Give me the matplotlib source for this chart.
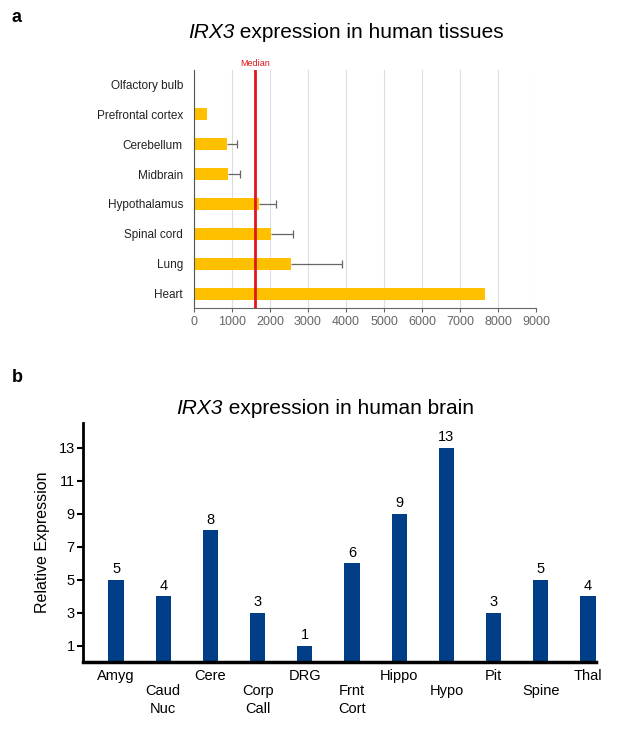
import matplotlib
matplotlib.use("Agg")
import matplotlib.pyplot as plt
import numpy as np

plt.rcParams['font.family'] = ['Liberation Sans', 'DejaVu Sans']

# Panel a data
tissues = ["Heart", "Lung", "Spinal cord", "Hypothalamus", "Midbrain",
           "Cerebellum", "Prefrontal cortex", "Olfactory bulb"]
tissue_values = [7650, 2550, 2020, 1700, 900, 860, 350, 0]
tissue_err = [0, 1350, 580, 450, 300, 260, 0, 0]
median_value = 1600
xticks_a = [0, 1000, 2000, 3000, 4000, 5000, 6000, 7000, 8000, 9000]

# Panel b data
regions = ["Amyg", "Caud\nNuc", "Cere", "Corp\nCall", "DRG", "Frnt\nCort",
           "Hippo", "Hypo", "Pit", "Spine", "Thal"]
brain_values = [5, 4, 8, 3, 1, 6, 9, 13, 3, 5, 4]
yticks_b = [1, 3, 5, 7, 9, 11, 13]

fig = plt.figure(figsize=(6.24, 7.31), dpi=100)
renderer = fig.canvas.get_renderer()


def split_title(cx, cy, italic_part, rest, size):
    t1 = fig.text(0, cy, italic_part, fontstyle="italic", fontsize=size,
                  ha="left", va="center")
    t2 = fig.text(0, cy, rest, fontsize=size, ha="left", va="center")
    w1 = t1.get_window_extent(renderer).width / fig.bbox.width
    w2 = t2.get_window_extent(renderer).width / fig.bbox.width
    left = cx - (w1 + w2) / 2
    t1.set_x(left)
    t2.set_x(left + w1)


# ---- Panel a ----
ax1 = fig.add_axes([194/624, 1-308/731, (536-194)/624, (308-70)/731])
y = np.arange(len(tissues))
ax1.barh(y, tissue_values, height=0.37, color="#FFC000", zorder=2)
for yi, v, e in zip(y, tissue_values, tissue_err):
    if e > 0:
        ax1.hlines(yi, v, v + e, color="#666666", lw=0.9, zorder=3)
        ax1.plot([v + e], [yi], marker='|', ms=6, mew=0.9, color="#666666", zorder=3)
ax1.axvline(median_value, color="#E0161C", lw=2, zorder=4)
ax1.text(median_value, 1.01, "Median", transform=ax1.get_xaxis_transform(),
         color="#E0161C", fontsize=6.5, ha="center", va="bottom")
ax1.set_xlim(0, 9000)
ax1.set_ylim(-0.467, 7.467)
ax1.set_xticks(xticks_a)
ax1.set_xticklabels([str(v) for v in xticks_a], color="#666666", fontsize=9)
ax1.set_yticks(y)
ax1.set_yticklabels(tissues, fontsize=8.5, color="#222222")
ax1.tick_params(axis='y', length=0, pad=8)
ax1.tick_params(axis='x', length=3, color="#666666", pad=3)
ax1.grid(axis='x', color="#DDDDDD", lw=0.8, zorder=0)
ax1.set_axisbelow(True)
for s in ["top", "right"]:
    ax1.spines[s].set_visible(False)
ax1.spines["left"].set_color("#555555")
ax1.spines["bottom"].set_color("#666666")

split_title(346/624, 1-32/731, "IRX3", " expression in human tissues", 15)
fig.text(12/624, 1-18/731, "a", fontsize=13, fontweight="bold", ha="left", va="center")

# ---- Panel b ----
ax2 = fig.add_axes([83/624, 1-662/731, (596-83)/624, (662-423)/731])
x = np.arange(len(regions))
ax2.bar(x, brain_values, width=0.32, color="#003F87", zorder=2)
for xi, v in zip(x, brain_values):
    ax2.text(xi, v + 0.2, str(v), ha="center", va="bottom", fontsize=10.5)
ax2.set_xlim(-0.7, 10.17)
ax2.set_ylim(0, 14.5)
ax2.set_yticks(yticks_b)
ax2.set_yticklabels([str(v) for v in yticks_b], fontsize=10.5)
ax2.tick_params(axis='y', length=4, width=1.5, pad=2)
ax2.set_xticks(x)
ax2.set_xticklabels([])
ax2.tick_params(axis='x', length=0)
for i, (xi, lab) in enumerate(zip(x, regions)):
    offset = 5 if i % 2 == 0 else 16
    ax2.annotate(lab, xy=(xi, 0), xycoords=('data', 'axes fraction'),
                 xytext=(0, -offset), textcoords='offset points',
                 ha="center", va="top", fontsize=10.5, linespacing=1.3)
for s in ["top", "right"]:
    ax2.spines[s].set_visible(False)
ax2.spines["left"].set_linewidth(2)
ax2.spines["bottom"].set_linewidth(2.5)
ax2.set_ylabel("Relative Expression", fontsize=11.5, labelpad=6)

split_title(325/624, 1-408/731, "IRX3", " expression in human brain", 15)
fig.text(12/624, 1-378/731, "b", fontsize=13, fontweight="bold", ha="left", va="center")

fig.savefig("out.png", dpi=100)
